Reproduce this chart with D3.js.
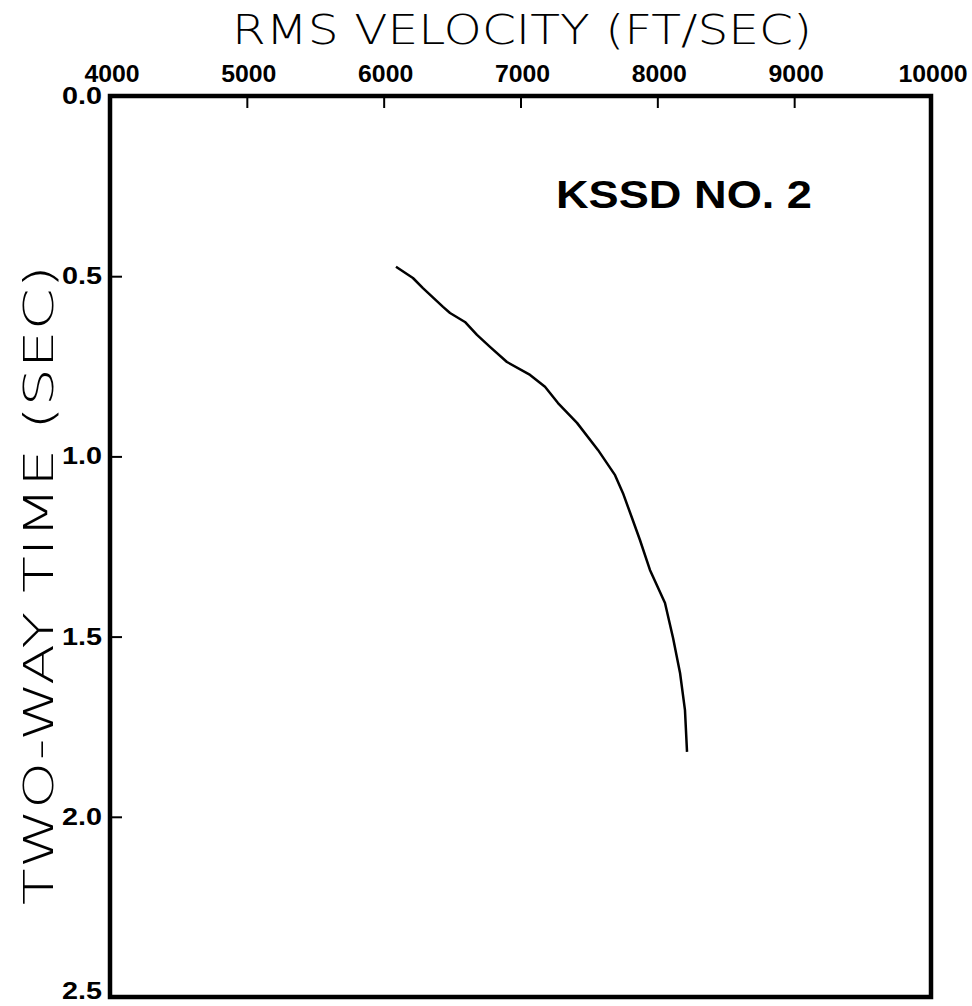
<!DOCTYPE html>
<html><head><meta charset="utf-8">
<script src="https://cdn.jsdelivr.net/npm/d3@7"></script>
<style>html,body{margin:0;padding:0;background:#fff;}</style>
</head><body>
<script>
const velocity = [6090,6214,6287,6434,6485,6594,6682,6777,6901,7070,7179,7274,7413,7566,7691,7749,7815,7873,7946,8056,8115,8166,8202,8217];
const time =     [0.474,0.505,0.533,0.585,0.602,0.627,0.663,0.696,0.738,0.774,0.807,0.852,0.907,0.982,1.052,1.102,1.171,1.232,1.315,1.407,1.504,1.601,1.704,1.820];
const xTicks = [4000,5000,6000,7000,8000,9000,10000];
const yTicks = [0.0,0.5,1.0,1.5,2.0,2.5];
const xTitle = "RMS VELOCITY (FT/SEC)";
const yTitle = "TWO-WAY TIME (SEC)";
const label = "KSSD NO. 2";

const W = 972, H = 1006;
const m = {left:110, right:41, top:96, bottom:9};
const svg = d3.select("body").append("svg").attr("width",W).attr("height",H);
const x = d3.scaleLinear().domain([4000,10000]).range([m.left, W-m.right]);
const y = d3.scaleLinear().domain([0,2.5]).range([m.top, H-m.bottom]);

// ticks (inward)
const gx = svg.append("g").attr("transform",`translate(0,${m.top})`)
  .call(d3.axisBottom(x).tickValues(xTicks).tickSize(12).tickFormat(""));
gx.select(".domain").remove();
gx.selectAll("line").attr("stroke","#000").attr("stroke-width",2);
const gy = svg.append("g").attr("transform",`translate(${m.left},0)`)
  .call(d3.axisRight(y).tickValues(yTicks).tickSize(12).tickFormat(""));
gy.select(".domain").remove();
gy.selectAll("line").attr("stroke","#000").attr("stroke-width",2);

// frame
svg.append("rect").attr("x",x(4000)).attr("y",y(0)).attr("width",x(10000)-x(4000)).attr("height",y(2.5)-y(0))
  .attr("fill","none").attr("stroke","#000").attr("stroke-width",4.5);

// tick labels
svg.append("g").selectAll("text").data(xTicks).join("text")
  .attr("x",d=>x(d)+2).attr("y",m.top-14).attr("text-anchor","middle")
  .attr("font-family","Liberation Sans, Arial, sans-serif").attr("font-weight","bold").attr("font-size",23)
  .attr("textLength",d=>String(d).length*13.8).attr("lengthAdjust","spacingAndGlyphs")
  .text(d=>d);
svg.append("g").selectAll("text").data(yTicks).join("text")
  .attr("x",m.left-8).attr("y",d=>y(d)+ (d===2.5?2:8)).attr("text-anchor","end")
  .attr("font-family","Liberation Sans, Arial, sans-serif").attr("font-weight","bold").attr("font-size",23)
  .attr("textLength",40).attr("lengthAdjust","spacingAndGlyphs")
  .text(d=>d.toFixed(1));

// axis titles
svg.append("text").attr("x",522).attr("y",44).attr("text-anchor","middle")
  .attr("font-family","DejaVu Sans, sans-serif").attr("font-weight",200).attr("font-size",40)
  .attr("textLength",580).attr("lengthAdjust","spacingAndGlyphs").text(xTitle);
svg.append("text").attr("transform","translate(53,585) rotate(-90)").attr("text-anchor","middle")
  .attr("font-family","DejaVu Sans, sans-serif").attr("font-weight",200).attr("font-size",40)
  .attr("textLength",640).attr("lengthAdjust","spacingAndGlyphs").text(yTitle);

// label
svg.append("text").attr("x",556).attr("y",208)
  .attr("font-family","Liberation Sans, Arial, sans-serif").attr("font-weight","bold").attr("font-size",39)
  .attr("textLength",256).attr("lengthAdjust","spacingAndGlyphs").text(label);

// curve
const pts = velocity.map((v,i)=>[v,time[i]]);
svg.append("path").datum(pts)
  .attr("d", d3.line().x(d=>x(d[0])).y(d=>y(d[1])).curve(d3.curveLinear))
  .attr("fill","none").attr("stroke","#000").attr("stroke-width",2.5).attr("stroke-linejoin","round");
</script>
</body></html>
